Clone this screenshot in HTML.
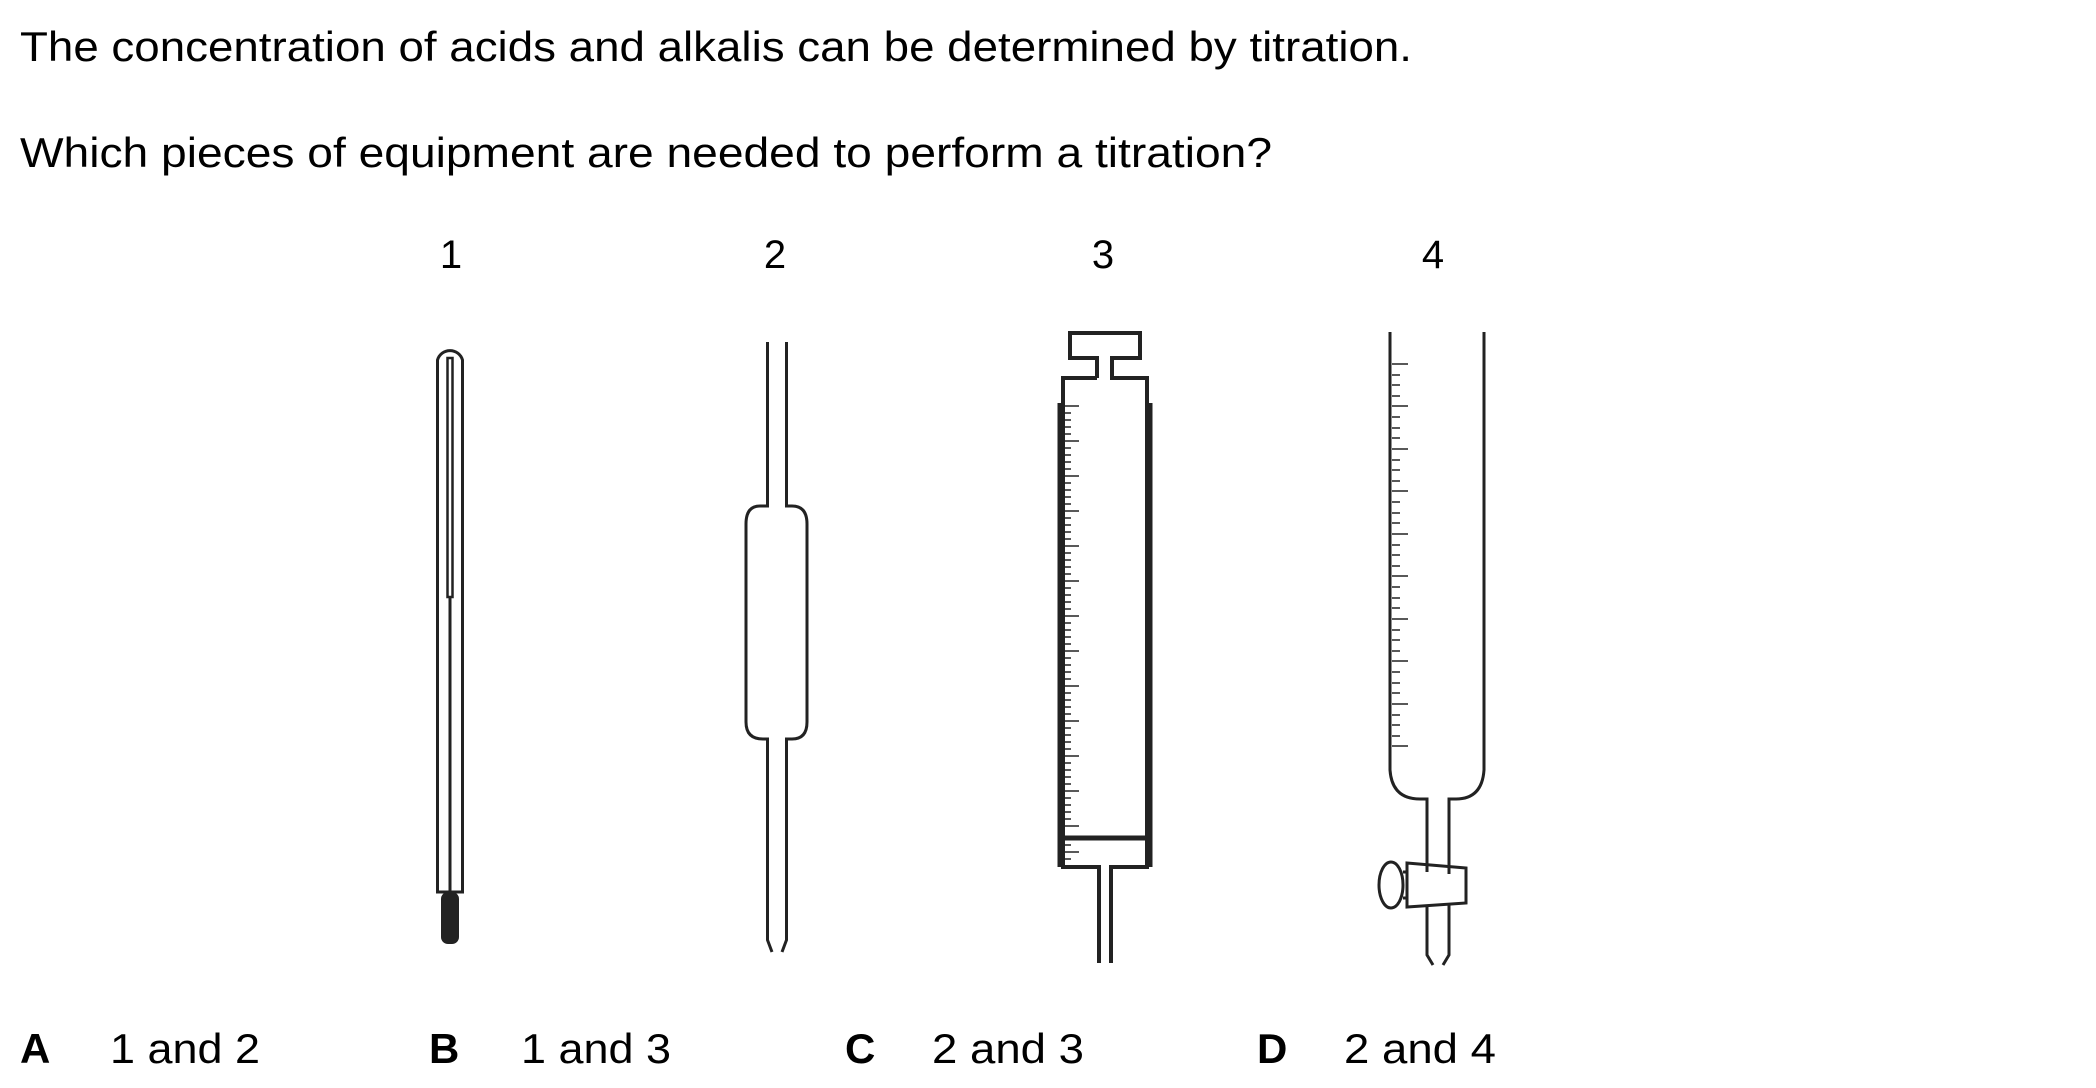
<!DOCTYPE html>
<html><head><meta charset="utf-8"><style>
html,body{margin:0;padding:0;background:#fff;}
svg{display:block;}
text{font-family:"Liberation Sans",Arial,sans-serif;fill:#000;}
</style></head><body>
<svg width="2096" height="1088" viewBox="0 0 2096 1088" xmlns="http://www.w3.org/2000/svg">
<text x="20" y="61" font-size="42" textLength="1392" lengthAdjust="spacingAndGlyphs">The concentration of acids and alkalis can be determined by titration.</text>
<text x="20" y="167" font-size="42" textLength="1252" lengthAdjust="spacingAndGlyphs">Which pieces of equipment are needed to perform a titration?</text>
<g font-size="40" text-anchor="middle" style="font-weight:300">
<text x="451" y="268">1</text><text x="775" y="268">2</text><text x="1103" y="268">3</text><text x="1433" y="268">4</text>
</g>
<g font-size="42">
<text x="20" y="1063" font-weight="bold">A</text><text x="110" y="1063" textLength="150" lengthAdjust="spacingAndGlyphs">1 and 2</text>
<text x="429" y="1063" font-weight="bold">B</text><text x="521" y="1063" textLength="150" lengthAdjust="spacingAndGlyphs">1 and 3</text>
<text x="845" y="1063" font-weight="bold">C</text><text x="932" y="1063" textLength="152" lengthAdjust="spacingAndGlyphs">2 and 3</text>
<text x="1257" y="1063" font-weight="bold">D</text><text x="1344" y="1063" textLength="152" lengthAdjust="spacingAndGlyphs">2 and 4</text>
</g>
<g fill="none" stroke="#222" stroke-width="3">
<path d="M437.5 892 V360 A13 13 0 0 1 462.5 360 V892 Z"/>
<path d="M447.5 597 V358 H452.5 V597 Z" stroke-width="2.5"/>
<line x1="450" y1="597" x2="450" y2="892"/>
<rect x="441" y="892" width="18" height="52" rx="7" fill="#222" stroke="none"/>
<path d="M767.5 342 V506 H760 Q746 506 746 524 V722 Q746 739 763 739 H767.5 V940 L772 952"/>
<path d="M786.5 342 V506 H792 Q807 506 807 524 V722 Q807 739 792 739 H786.5 V940 L782 952"/>
<path d="M1097 378 V358 H1070 V333 H1140 V358 H1112 V378 H1147 V867 H1111 V963" stroke-width="4"/>
<path d="M1097 378 H1063 V867 H1099 V963" stroke-width="4"/>
<line x1="1061" y1="403" x2="1061" y2="867" stroke-width="7"/>
<line x1="1149" y1="403" x2="1149" y2="867" stroke-width="7"/>
<line x1="1063" y1="838" x2="1147" y2="838" stroke-width="5"/>
<path d="M1390 332 V770 Q1392 799 1420 799 H1427 V872"/>
<path d="M1484 332 V770 Q1482 799 1456 799 H1449 V874"/>
<path d="M1427 905 V955 L1433 965"/>
<path d="M1449 905 V955 L1443 965"/>
<path d="M1407 863 L1466 868 V903 L1407 907 Z"/>
<ellipse cx="1391" cy="885" rx="12" ry="23"/>
<line x1="1403" y1="872" x2="1407" y2="872"/><line x1="1403" y1="898" x2="1407" y2="898"/>
</g>
<g stroke="#222" stroke-width="1.5">
<path d="M1392 364h16M1392 375h8M1392 385h8M1392 396h8M1392 406h16M1392 417h8M1392 428h8M1392 438h8M1392 449h16M1392 460h8M1392 470h8M1392 481h8M1392 491h16M1392 502h8M1392 513h8M1392 523h8M1392 534h16M1392 545h8M1392 555h8M1392 566h8M1392 576h16M1392 587h8M1392 598h8M1392 608h8M1392 619h16M1392 630h8M1392 640h8M1392 651h8M1392 661h16M1392 672h8M1392 683h8M1392 693h8M1392 704h16M1392 715h8M1392 725h8M1392 736h8M1392 746h16"/>
<path d="M1065 406h14M1065 413h6M1065 420h6M1065 427h6M1065 434h6M1065 441h14M1065 448h6M1065 455h6M1065 462h6M1065 469h6M1065 476h14M1065 483h6M1065 490h6M1065 497h6M1065 504h6M1065 511h14M1065 518h6M1065 525h6M1065 532h6M1065 539h6M1065 546h14M1065 553h6M1065 560h6M1065 567h6M1065 574h6M1065 581h14M1065 588h6M1065 595h6M1065 602h6M1065 609h6M1065 616h14M1065 623h6M1065 630h6M1065 637h6M1065 644h6M1065 651h14M1065 658h6M1065 665h6M1065 672h6M1065 679h6M1065 686h14M1065 693h6M1065 700h6M1065 707h6M1065 714h6M1065 721h14M1065 728h6M1065 735h6M1065 742h6M1065 749h6M1065 756h14M1065 763h6M1065 770h6M1065 777h6M1065 784h6M1065 791h14M1065 798h6M1065 805h6M1065 812h6M1065 819h6M1065 826h14M1065 845h6M1065 852h14M1065 859h6"/>
</g>
</svg>
</body></html>
